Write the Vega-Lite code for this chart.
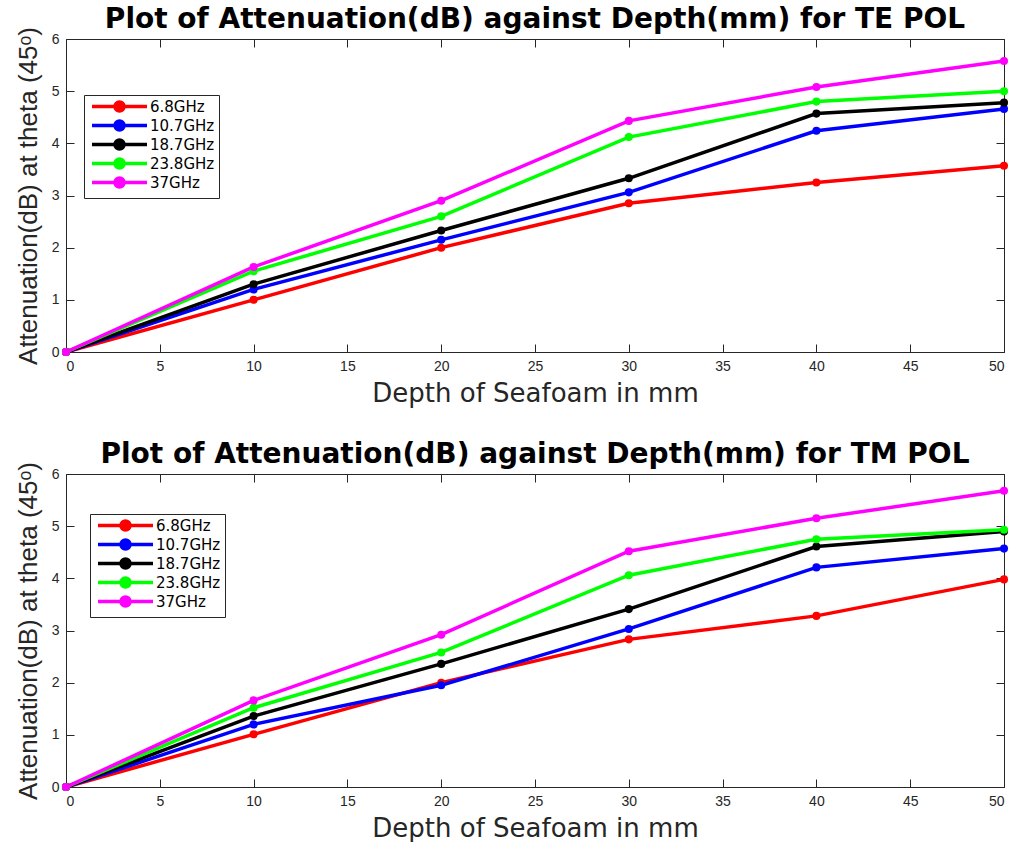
{
  "$schema": "https://vega.github.io/schema/vega-lite/v6.json",
  "background": "white",
  "padding": {"left": 14, "top": 5, "right": 9, "bottom": 0},
  "spacing": 33,
  "datasets": {
    "te": [
      {"freq": "6.8GHz", "depth": 0, "att": 0}, {"freq": "6.8GHz", "depth": 10, "att": 1.0}, {"freq": "6.8GHz", "depth": 20, "att": 2.0}, {"freq": "6.8GHz", "depth": 30, "att": 2.85}, {"freq": "6.8GHz", "depth": 40, "att": 3.25}, {"freq": "6.8GHz", "depth": 50, "att": 3.57},
      {"freq": "10.7GHz", "depth": 0, "att": 0}, {"freq": "10.7GHz", "depth": 10, "att": 1.2}, {"freq": "10.7GHz", "depth": 20, "att": 2.15}, {"freq": "10.7GHz", "depth": 30, "att": 3.06}, {"freq": "10.7GHz", "depth": 40, "att": 4.24}, {"freq": "10.7GHz", "depth": 50, "att": 4.66},
      {"freq": "18.7GHz", "depth": 0, "att": 0}, {"freq": "18.7GHz", "depth": 10, "att": 1.3}, {"freq": "18.7GHz", "depth": 20, "att": 2.33}, {"freq": "18.7GHz", "depth": 30, "att": 3.33}, {"freq": "18.7GHz", "depth": 40, "att": 4.57}, {"freq": "18.7GHz", "depth": 50, "att": 4.78},
      {"freq": "23.8GHz", "depth": 0, "att": 0}, {"freq": "23.8GHz", "depth": 10, "att": 1.55}, {"freq": "23.8GHz", "depth": 20, "att": 2.6}, {"freq": "23.8GHz", "depth": 30, "att": 4.12}, {"freq": "23.8GHz", "depth": 40, "att": 4.8}, {"freq": "23.8GHz", "depth": 50, "att": 5.0},
      {"freq": "37GHz", "depth": 0, "att": 0}, {"freq": "37GHz", "depth": 10, "att": 1.63}, {"freq": "37GHz", "depth": 20, "att": 2.9}, {"freq": "37GHz", "depth": 30, "att": 4.43}, {"freq": "37GHz", "depth": 40, "att": 5.08}, {"freq": "37GHz", "depth": 50, "att": 5.58}
    ],
    "tm": [
      {"freq": "6.8GHz", "depth": 0, "att": 0}, {"freq": "6.8GHz", "depth": 10, "att": 1.01}, {"freq": "6.8GHz", "depth": 20, "att": 2.0}, {"freq": "6.8GHz", "depth": 30, "att": 2.83}, {"freq": "6.8GHz", "depth": 40, "att": 3.28}, {"freq": "6.8GHz", "depth": 50, "att": 3.98},
      {"freq": "10.7GHz", "depth": 0, "att": 0}, {"freq": "10.7GHz", "depth": 10, "att": 1.2}, {"freq": "10.7GHz", "depth": 20, "att": 1.95}, {"freq": "10.7GHz", "depth": 30, "att": 3.03}, {"freq": "10.7GHz", "depth": 40, "att": 4.21}, {"freq": "10.7GHz", "depth": 50, "att": 4.57},
      {"freq": "18.7GHz", "depth": 0, "att": 0}, {"freq": "18.7GHz", "depth": 10, "att": 1.36}, {"freq": "18.7GHz", "depth": 20, "att": 2.36}, {"freq": "18.7GHz", "depth": 30, "att": 3.41}, {"freq": "18.7GHz", "depth": 40, "att": 4.61}, {"freq": "18.7GHz", "depth": 50, "att": 4.9},
      {"freq": "23.8GHz", "depth": 0, "att": 0}, {"freq": "23.8GHz", "depth": 10, "att": 1.52}, {"freq": "23.8GHz", "depth": 20, "att": 2.58}, {"freq": "23.8GHz", "depth": 30, "att": 4.06}, {"freq": "23.8GHz", "depth": 40, "att": 4.75}, {"freq": "23.8GHz", "depth": 50, "att": 4.93},
      {"freq": "37GHz", "depth": 0, "att": 0}, {"freq": "37GHz", "depth": 10, "att": 1.66}, {"freq": "37GHz", "depth": 20, "att": 2.92}, {"freq": "37GHz", "depth": 30, "att": 4.52}, {"freq": "37GHz", "depth": 40, "att": 5.15}, {"freq": "37GHz", "depth": 50, "att": 5.68}
    ]
  },
  "vconcat": [
    {
      "data": {"name": "te"},
      "width": 938,
      "height": 313,
      "title": {"text": "Plot of Attenuation(dB) against Depth(mm) for TE POL"},
      "layer": [
        {
          "mark": {"type": "line", "strokeWidth": 3.5, "point": {"filled": true, "size": 65, "opacity": 1}},
          "encoding": {
            "x": {"field": "depth", "type": "quantitative", "title": "Depth of Seafoam in mm", "scale": {"domain": [0, 50], "nice": false}, "axis": {"values": [0, 5, 10, 15, 20, 25, 30, 35, 40, 45, 50]}},
            "y": {"field": "att", "type": "quantitative", "title": "Attenuation(dB) at theta (45ᵒ)", "scale": {"domain": [0, 6], "nice": false}, "axis": {"values": [0, 1, 2, 3, 4, 5, 6]}},
            "color": {"field": "freq", "type": "nominal", "title": null,
              "sort": ["6.8GHz", "10.7GHz", "18.7GHz", "23.8GHz", "37GHz"],
              "scale": {"domain": ["6.8GHz", "10.7GHz", "18.7GHz", "23.8GHz", "37GHz"], "range": ["#ff0000", "#0000ff", "#000000", "#00ff00", "#ff00ff"]},
              "legend": {"orient": "none", "legendX": 18, "legendY": 56}}
          }
        },
        {
          "mark": {"type": "point", "opacity": 0},
          "encoding": {
            "x": {"field": "depth", "type": "quantitative", "scale": {"domain": [0, 50], "nice": false}, "axis": {"orient": "top", "values": [0, 5, 10, 15, 20, 25, 30, 35, 40, 45, 50], "labels": false, "title": null, "domain": false, "labelPadding": 0, "titlePadding": 0}},
            "y": {"field": "att", "type": "quantitative", "scale": {"domain": [0, 6], "nice": false}, "axis": {"orient": "right", "values": [0, 1, 2, 3, 4, 5, 6], "labels": false, "title": null, "domain": false, "labelPadding": 0, "titlePadding": 0}}
          }
        }
      ],
      "resolve": {"axis": {"x": "independent", "y": "independent"}}
    },
    {
      "data": {"name": "tm"},
      "width": 938,
      "height": 313,
      "title": {"text": "Plot of Attenuation(dB) against Depth(mm) for TM POL"},
      "layer": [
        {
          "mark": {"type": "line", "strokeWidth": 3.5, "point": {"filled": true, "size": 65, "opacity": 1}},
          "encoding": {
            "x": {"field": "depth", "type": "quantitative", "title": "Depth of Seafoam in mm", "scale": {"domain": [0, 50], "nice": false}, "axis": {"values": [0, 5, 10, 15, 20, 25, 30, 35, 40, 45, 50]}},
            "y": {"field": "att", "type": "quantitative", "title": "Attenuation(dB) at theta (45ᵒ)", "scale": {"domain": [0, 6], "nice": false}, "axis": {"values": [0, 1, 2, 3, 4, 5, 6]}},
            "color": {"field": "freq", "type": "nominal", "title": null,
              "sort": ["6.8GHz", "10.7GHz", "18.7GHz", "23.8GHz", "37GHz"],
              "scale": {"domain": ["6.8GHz", "10.7GHz", "18.7GHz", "23.8GHz", "37GHz"], "range": ["#ff0000", "#0000ff", "#000000", "#00ff00", "#ff00ff"]},
              "legend": {"orient": "none", "legendX": 24, "legendY": 40}}
          }
        },
        {
          "mark": {"type": "point", "opacity": 0},
          "encoding": {
            "x": {"field": "depth", "type": "quantitative", "scale": {"domain": [0, 50], "nice": false}, "axis": {"orient": "top", "values": [0, 5, 10, 15, 20, 25, 30, 35, 40, 45, 50], "labels": false, "title": null, "domain": false, "labelPadding": 0, "titlePadding": 0}},
            "y": {"field": "att", "type": "quantitative", "scale": {"domain": [0, 6], "nice": false}, "axis": {"orient": "right", "values": [0, 1, 2, 3, 4, 5, 6], "labels": false, "title": null, "domain": false, "labelPadding": 0, "titlePadding": 0}}
          }
        }
      ],
      "resolve": {"axis": {"x": "independent", "y": "independent"}}
    }
  ],
  "resolve": {"legend": {"color": "independent"}, "scale": {"color": "independent"}},
  "config": {
    "font": "Liberation Sans",
    "view": {"stroke": "#262626", "strokeWidth": 1},
    "title": {"fontSize": 28, "fontWeight": "bold", "color": "#000000", "offset": -7, "anchor": "middle", "font": "DejaVu Sans"},
    "axis": {"grid": false, "domainColor": "#262626", "tickColor": "#262626", "tickSize": -8, "labelColor": "#262626", "labelFontSize": 14, "labelFont": "Liberation Sans", "titleFont": "DejaVu Sans", "titleFontSize": 26, "titleFontWeight": "normal", "titleColor": "#262626", "labelPadding": 15},
    "axisX": {"titlePadding": 7, "labelPadding": 15},
    "axisY": {"titlePadding": 10, "labelPadding": 15, "titleFont": "Liberation Sans", "titleFontSize": 26},
    "legend": {"strokeColor": "#262626", "fillColor": "white", "padding": 4, "labelFontSize": 15, "labelColor": "#000000", "labelFont": "DejaVu Sans",
      "symbolType": "M-5.5,0L5.5,0M0.9,0A0.9,0.9,0,1,1,-0.9,0A0.9,0.9,0,1,1,0.9,0Z",
      "symbolSize": 100, "symbolStrokeWidth": 3.5, "rowPadding": -16, "symbolOffset": 24, "labelOffset": 23, "cornerRadius": 0}
  }
}
